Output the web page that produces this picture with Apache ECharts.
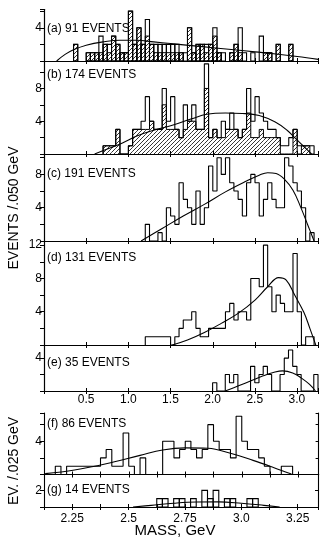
<!DOCTYPE html>
<html>
<head>
<meta charset="utf-8">
<script src="https://cdn.jsdelivr.net/npm/echarts@6/dist/echarts.min.js"></script>
<style>
  html, body { margin: 0; padding: 0; background: #fff; }
  #chart { width: 321px; height: 542px; }
</style>
</head>
<body>
<div id="chart"></div>
<script>
// bin widths (GeV)
var topBinWidth = 0.05
var bottomBinWidth = 0.025

// (a) 91 events, first bin starts at aStart
var aStart = 0.35
var aTotal = [2, 0, 0, 1, 1, 1, 3, 2, 2, 3, 2, 1, 1, 6, 2, 4, 2, 5, 2, 2, 2, 2, 2, 2, 2, 1, 1, 4, 1, 2, 2, 2, 2, 4, 1, 1, 0, 1, 2, 4, 1, 0, 1, 0, 3, 1, 1, 0, 2, 0, 0, 2]
var aHatched = [2, 0, 0, 1, 1, 1, 1, 2, 1, 3, 2, 1, 1, 6, 2, 4, 2, 3, 2, 1, 1, 1, 1, 1, 1, 1, 0, 4, 1, 2, 2, 1, 2, 3, 1, 0, 0, 1, 2, 1, 0, 0, 0, 0, 0, 1, 1, 0, 2, 0, 0, 2]
var aCurve = [[0.15, 0], [0.25, 0.8], [0.35, 1.35], [0.5, 1.9], [0.7, 2.3], [0.9, 2.5], [1.1, 2.5], [1.3, 2.3], [1.5, 2.1], [1.75, 1.85], [2.0, 1.6], [2.25, 1.35], [2.5, 1.1], [2.75, 0.85], [3.0, 0.55], [3.25, 0.2]]
var aYLabels = [4]

// (b) 174 events
var bStart = 0.70
var bTotal = [1, 1, 1, 3, 0, 0, 1, 3, 3, 4, 7, 4, 3, 3, 8, 4, 7, 3, 2, 6, 4, 6, 3, 3, 11, 2, 3, 2, 4, 3, 5, 3, 2, 3, 8, 4, 7, 5, 4, 3, 3, 2, 1, 1, 2, 3, 1, 1, 1, 1]
var bHatched = [1, 1, 1, 3, 0, 0, 1, 3, 3, 3, 3, 4, 3, 3, 6, 3, 3, 3, 2, 3, 4, 4, 3, 3, 8, 2, 3, 2, 2, 3, 3, 3, 2, 3, 5, 2, 2, 3, 2, 2, 2, 2, 0, 0, 0, 3, 0, 1, 1, 0]
var bCurve = [[0.6, 0], [0.75, 0.6], [0.93, 1.35], [1.1, 2.2], [1.3, 2.9], [1.52, 3.5], [1.75, 4.3], [1.93, 4.85], [2.15, 5.0], [2.35, 4.95], [2.55, 4.7], [2.74, 3.9], [2.88, 2.9], [2.98, 1.9], [3.1, 0.7], [3.17, 0]]
var bYLabels = [4, 8]

// (c) 191 events
var cStart = 1.20
var cTotal = [2, 0, 0, 1, 0, 4, 3, 2, 7, 5, 4, 2, 6, 2, 4, 9, 6, 10, 8, 10, 7, 6, 5, 3, 7, 8, 7, 3, 5, 7, 5, 4, 4, 10, 9, 7, 6, 4, 0, 1]
var cCurve = [[1.15, 0], [1.4, 1.5], [1.65, 3.0], [1.9, 4.4], [2.15, 5.9], [2.4, 7.2], [2.55, 7.9], [2.65, 8.2], [2.75, 8.1], [2.85, 7.4], [2.95, 6.1], [3.04, 4.1], [3.13, 1.8], [3.2, 0]]
var cYLabels = [4, 8]

// (d) 131 events
var dStart = 1.20
var dTotal = [1, 1, 1, 1, 1, 1, 0, 1, 2, 3, 3, 4, 2, 1, 1, 2, 2, 2, 2, 4, 5, 3, 4, 4, 3, 8, 8, 7, 12, 7, 4, 6, 5, 4, 4, 11, 4, 0, 1, 1]
var dCurve = [[1.52, 0], [1.7, 0.6], [1.9, 1.5], [2.1, 2.6], [2.3, 3.8], [2.5, 5.4], [2.65, 7.0], [2.78, 8.1], [2.87, 7.8], [2.97, 6.0], [3.08, 3.9], [3.15, 2.0], [3.22, 0]]
var dYLabels = [4, 8, 12]

// (e) 35 events
var eStart = 2.00
var eTotal = [1, 0, 0, 2, 1, 2, 0, 0, 0, 3, 1, 2, 3, 2, 0, 0, 2, 4, 5, 3, 2, 0, 0, 0, 2]
var eCurve = [[2.15, 0], [2.3, 0.6], [2.47, 1.3], [2.6, 1.85], [2.72, 2.25], [2.83, 2.45], [2.95, 2.2], [3.05, 1.6], [3.15, 0.8], [3.22, 0]]
var eYLabels = [4]

// (f) 86 events, .025 GeV bins
var fStart = 2.175
var fTotal = [1, 0, 1, 1, 1, 1, 1, 1, 2, 3, 1, 1, 5, 1, 0, 2, 0, 0, 0, 4, 4, 2, 3, 4, 3, 2, 3, 6, 4, 3, 3, 2, 7, 4, 3, 3, 2, 1, 0, 0, 1, 1]
var fCurve = [[2.13, 0.1], [2.26, 0.55], [2.4, 1.3], [2.55, 2.3], [2.65, 2.95], [2.75, 3.2], [2.85, 3.15], [2.95, 2.55], [3.05, 1.7], [3.14, 0.85], [3.22, 0.05]]
var fYLabels = [4]

// (g) 14 events
var gStart = 2.625
var gTotal = [1, 1, 0, 1, 1, 0, 1, 0, 2, 1, 2, 0, 1, 1, 0, 0, 1, 1]
var gCurve = [[2.52, 0], [2.6, 0.2], [2.7, 0.45], [2.8, 0.6], [2.9, 0.62], [3.0, 0.45], [3.1, 0.2], [3.17, 0]]
var gYLabels = [2]

var topTickLabels = ['0.5', '1.0', '1.5', '2.0', '2.5', '3.0']
var bottomTickLabels = ['2.25', '2.5', '2.75', '3.0', '3.25']

var FONT = 'Liberation Sans'

// hatch tile for the shaded subsets
function makeHatch () {
  var c = document.createElement('canvas')
  c.width = 4
  c.height = 4
  var ctx = c.getContext('2d')
  ctx.strokeStyle = '#000'
  ctx.lineWidth = 0.8
  ctx.beginPath()
  ctx.moveTo(0, 4); ctx.lineTo(4, 0)
  ctx.moveTo(-1, 1); ctx.lineTo(1, -1)
  ctx.moveTo(3, 5); ctx.lineTo(5, 3)
  ctx.stroke()
  return c
}
var hatchFill = { image: makeHatch(), repeat: 'repeat' }

function bins (start, w, total, hatched) {
  return total.map(function (n, i) {
    var x0 = +(start + i * w).toFixed(4)
    return [x0, +(x0 + w).toFixed(4), n, hatched ? hatched[i] : 0]
  })
}

function stepPoints (start, w, counts) {
  var pts = [[start, 0]]
  counts.forEach(function (c, i) { pts.push([+(start + i * w).toFixed(4), c]) })
  pts.push([+(start + counts.length * w).toFixed(4), 0])
  return pts
}

// each bin as its own box, hatched part filled
function renderBox (outline) {
  return function (params, api) {
    var x0 = api.value(0)
    var x1 = api.value(1)
    var n = api.value(2)
    var h = api.value(3)
    var kids = []
    var base = api.coord([x0, 0])
    if (h > 0) {
      var q = api.coord([x1, h])
      kids.push({
        type: 'rect',
        shape: { x: base[0], y: q[1], width: q[0] - base[0], height: base[1] - q[1] },
        style: { fill: hatchFill, stroke: outline ? '#000' : null, lineWidth: 1 }
      })
    }
    if (outline && n > 0) {
      var p = api.coord([x1, n])
      kids.push({
        type: 'rect',
        shape: { x: base[0], y: p[1], width: p[0] - base[0], height: base[1] - p[1] },
        style: { fill: 'none', stroke: '#000', lineWidth: 1.1 }
      })
    }
    return { type: 'group', children: kids }
  }
}

var panels = [
  { label: '(a) 91 EVENTS', start: aStart, w: topBinWidth, total: aTotal, hatched: aHatched, curve: aCurve, yLabels: aYLabels, kind: 'boxes', lower: false, ymax: 6.2, top: 9.5, height: 51.5, ly: 29 },
  { label: '(b) 174 EVENTS', start: bStart, w: topBinWidth, total: bTotal, hatched: bHatched, curve: bCurve, yLabels: bYLabels, kind: 'hatchStep', lower: false, ymax: 11.35, top: 61, height: 93, ly: 75 },
  { label: '(c) 191 EVENTS', start: cStart, w: topBinWidth, total: cTotal, curve: cCurve, yLabels: cYLabels, kind: 'step', lower: false, ymax: 10.45, top: 154, height: 87, ly: 174 },
  { label: '(d) 131 EVENTS', start: dStart, w: topBinWidth, total: dTotal, curve: dCurve, yLabels: dYLabels, kind: 'step', lower: false, ymax: 12.5, top: 241, height: 104, ly: 258 },
  { label: '(e) 35 EVENTS', start: eStart, w: topBinWidth, total: eTotal, curve: eCurve, yLabels: eYLabels, kind: 'step', lower: false, ymax: 5.6, top: 345, height: 46, ly: 363, xLabels: true },
  { label: '(f) 86 EVENTS', start: fStart, w: bottomBinWidth, total: fTotal, curve: fCurve, yLabels: fYLabels, kind: 'step', lower: true, ymax: 7.4, top: 413, height: 61.5, ly: 424 },
  { label: '(g) 14 EVENTS', start: gStart, w: bottomBinWidth, total: gTotal, curve: gCurve, yLabels: gYLabels, kind: 'boxes', lower: true, ymax: 3.9, top: 474.5, height: 32.5, ly: 490, xLabels: true }
]

var line = { lineStyle: { color: '#000', width: 1.1 } }
var grids = []
var xAxes = []
var yAxes = []
var series = []
var graphics = []

panels.forEach(function (p, i) {
  grids.push({ left: 44, top: p.top, width: p.lower ? 274.6 : 274.3, height: p.height })
  var xmin = p.lower ? 2.125 : 0
  var xmax = p.lower ? 3.34 : 3.25
  var xint = p.lower ? 0.125 : 0.5
  var tickList = p.lower ? bottomTickLabels : topTickLabels
  xAxes.push({
    type: 'value', gridIndex: i, min: xmin, max: xmax, interval: xint,
    axisLine: line, splitLine: { show: false },
    axisTick: { inside: true, length: 3, lineStyle: { color: '#000' } },
    axisLabel: {
      show: !!p.xLabels, color: '#000', fontFamily: FONT, fontSize: 12, margin: p.lower ? 6 : 3,
      formatter: function (v) {
        var s = p.lower ? String(Math.round(v * 1000) / 1000) : (Math.round(v * 100) / 100).toFixed(1)
        if (p.lower && s === '3') s = '3.0'
        return tickList.indexOf(s) >= 0 ? s : ''
      }
    }
  })
  yAxes.push({
    type: 'value', gridIndex: i, min: 0, max: p.ymax, interval: 2,
    axisLine: line, splitLine: { show: false },
    axisTick: { inside: false, length: 4, lineStyle: { color: '#000' } },
    axisLabel: {
      color: '#000', fontFamily: FONT, fontSize: 12, margin: 2,
      formatter: function (v) { return p.yLabels.indexOf(v) >= 0 ? String(v) : '' }
    }
  })

  var data = bins(p.start, p.w, p.total, p.hatched)
  if (p.kind === 'boxes') {
    series.push({ type: 'custom', xAxisIndex: i, yAxisIndex: i, renderItem: renderBox(true), encode: { x: [0, 1], y: [2, 3] }, data: data, clip: true })
  } else {
    if (p.kind === 'hatchStep') {
      series.push({ type: 'custom', xAxisIndex: i, yAxisIndex: i, renderItem: renderBox(false), encode: { x: [0, 1], y: [2, 3] }, data: data, clip: true })
      series.push({ type: 'line', xAxisIndex: i, yAxisIndex: i, step: 'end', symbol: 'none', lineStyle: { color: '#000', width: 1 }, data: stepPoints(p.start, p.w, p.hatched) })
    }
    series.push({ type: 'line', xAxisIndex: i, yAxisIndex: i, step: 'end', symbol: 'none', lineStyle: { color: '#000', width: 1.1 }, data: stepPoints(p.start, p.w, p.total) })
  }
  series.push({ type: 'line', xAxisIndex: i, yAxisIndex: i, smooth: 0.4, symbol: 'none', lineStyle: { color: '#000', width: 1.1 }, data: p.curve, clip: true })

  graphics.push({ type: 'text', x: 47, y: p.ly, style: { text: p.label, fill: '#000', fontFamily: FONT, fontSize: 12, verticalAlign: 'middle' } })
})

// mirrored ticks on the top and right edges of every frame
panels.forEach(function (p, i) {
  xAxes.push({
    type: 'value', gridIndex: i, position: 'top', min: xAxes[i].min, max: xAxes[i].max, interval: xAxes[i].interval,
    axisLine: line, splitLine: { show: false }, axisLabel: { show: false },
    axisTick: { inside: true, length: 3, lineStyle: { color: '#000' } }
  })
  yAxes.push({
    type: 'value', gridIndex: i, position: 'right', min: 0, max: p.ymax, interval: 2,
    axisLine: line, splitLine: { show: false }, axisLabel: { show: false },
    axisTick: { inside: true, length: 3, lineStyle: { color: '#000' } }
  })
})

graphics.push({ type: 'text', x: 14, y: 208, rotation: Math.PI / 2, style: { text: 'EVENTS /.050 GeV', fill: '#000', fontFamily: FONT, fontSize: 14, align: 'center', verticalAlign: 'middle' } })
graphics.push({ type: 'text', x: 14, y: 461, rotation: Math.PI / 2, style: { text: 'EV. /.025 GeV', fill: '#000', fontFamily: FONT, fontSize: 14, align: 'center', verticalAlign: 'middle' } })
graphics.push({ type: 'text', x: 175, y: 531, style: { text: 'MASS, GeV', fill: '#000', fontFamily: FONT, fontSize: 15, align: 'center', verticalAlign: 'middle' } })

var myChart = echarts.init(document.getElementById('chart'))
myChart.setOption({
  animation: false,
  backgroundColor: '#fff',
  grid: grids,
  xAxis: xAxes,
  yAxis: yAxes,
  series: series,
  graphic: graphics
})
</script>
</body>
</html>
